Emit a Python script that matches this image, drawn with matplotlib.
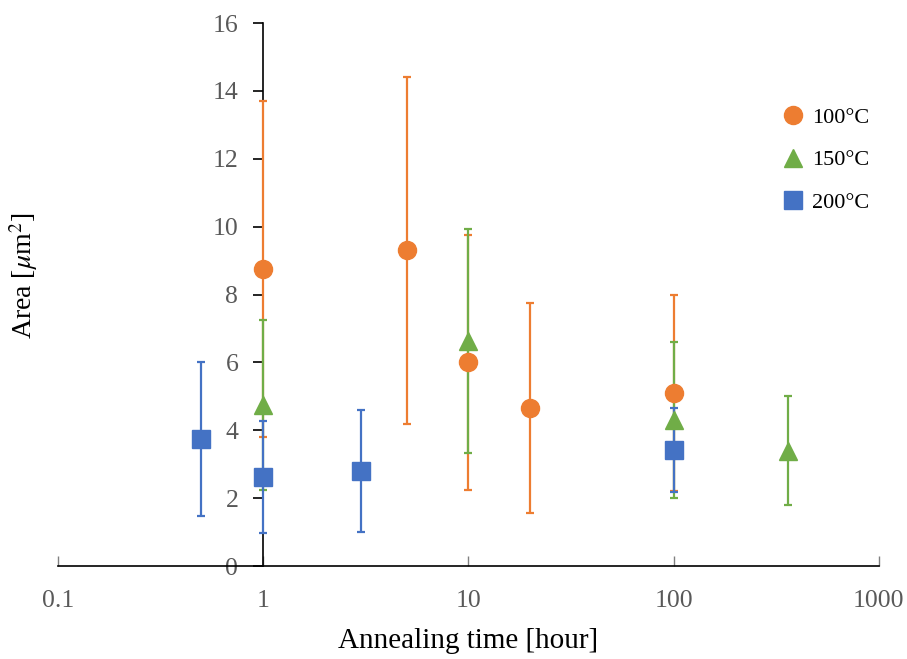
import matplotlib.pyplot as plt
from matplotlib.lines import Line2D

plt.rcParams["font.family"] = ["Liberation Serif", "DejaVu Serif"]
plt.rcParams["mathtext.fontset"] = "stix"

# data (mean, symmetric error)
t100 = [1, 5, 10, 20, 100]
a100 = [8.75, 9.3, 6.0, 4.65, 5.1]
e100 = [4.95, 5.1, 3.75, 3.1, 2.9]

t150 = [1, 10, 100, 360]
a150 = [4.75, 6.62, 4.3, 3.4]
e150 = [2.5, 3.3, 2.29, 1.6]

t200 = [0.5, 1, 3, 100]
a200 = [3.75, 2.63, 2.8, 3.43]
e200 = [2.27, 1.65, 1.8, 1.24]

series = [
    ("100°C", t100, a100, e100, "o", "#ED7D31"),
    ("150°C", t150, a150, e150, "^", "#70AD47"),
    ("200°C", t200, a200, e200, "s", "#4472C4"),
]

fig = plt.figure(figsize=(9.07, 6.59), dpi=100)
ax = fig.add_axes([0.064, 0.141, 0.905, 0.824])

handles = []
for label, x, y, err, mk, col in series:
    ax.errorbar(x, y, yerr=err, fmt=mk, color=col, ecolor=col,
                markersize=13, elinewidth=1.6, capsize=3, capthick=1.6,
                zorder=3)
    handles.append(Line2D([], [], marker=mk, color=col, linestyle="none",
                          markersize=13, label=label))

ax.set_xscale("log")
ax.set_xlim(0.1, 1000)
ax.set_ylim(0, 16)
ax.set_yticks(range(0, 17, 2))
ax.set_xticks([0.1, 1, 10, 100, 1000])
ax.set_xticklabels(["0.1", "1", "10", "100", "1000"])
ax.minorticks_off()

# y axis crosses at x = 1
ax.spines["left"].set_position(("data", 1))
ax.spines["top"].set_visible(False)
ax.spines["right"].set_visible(False)
ax.spines["left"].set_linewidth(1.2)
ax.spines["bottom"].set_linewidth(1.2)

ax.tick_params(axis="y", direction="out", length=7, width=1.2,
               labelsize=18.5, labelcolor="#595959", pad=11)
ax.tick_params(axis="x", direction="in", length=7, width=1,
               labelsize=18.5, labelcolor="#595959", pad=17, color="#808080")

ax.set_xlabel("Annealing time [hour]", fontsize=21, labelpad=12)
ax.set_ylabel("Area [$\\mathit{\\mu}$m$^2$]", fontsize=20)
ax.yaxis.set_label_coords(0.044, 0.581, transform=fig.transFigure)

ax.legend(handles=handles, loc="upper left", bbox_to_anchor=(0.840, 0.868),
          bbox_transform=fig.transFigure, frameon=False, fontsize=16,
          labelspacing=1.0, handletextpad=0.35, handlelength=1.0)

fig.savefig("out.png", dpi=100)
